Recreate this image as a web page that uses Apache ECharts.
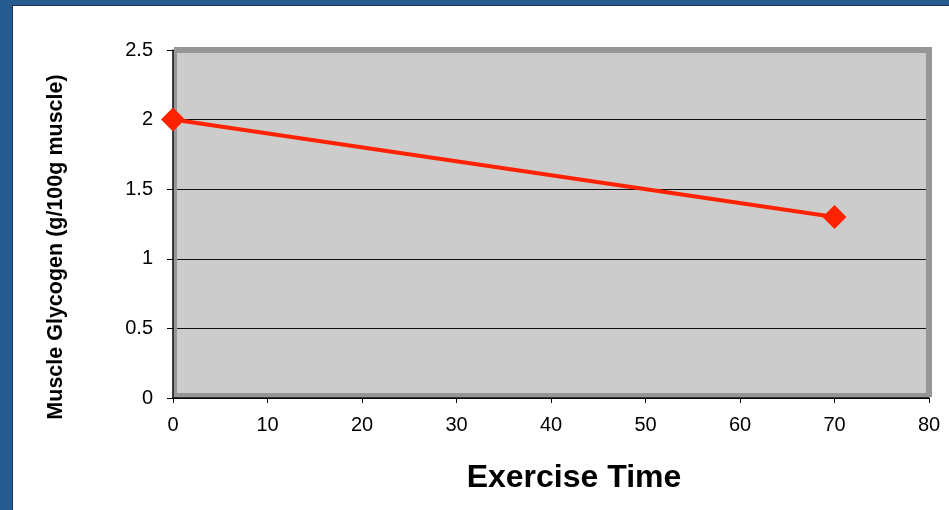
<!DOCTYPE html>
<html>
<head>
<meta charset="utf-8">
<script src="https://cdn.jsdelivr.net/npm/echarts@6/dist/echarts.min.js"></script>
<style>html,body{margin:0;padding:0;background:#fff;}#chart{width:949px;height:510px;}</style>
</head>
<body>
<div id="chart"></div>
<script>
const xTitle = 'Exercise Time';
const yTitle = 'Muscle Glycogen (g/100g muscle)';
const timeValues = [0, 70];
const glycogenValues = [2, 1.3];

const chart = echarts.init(document.getElementById('chart'));
const font = 'Liberation Sans, Arial, sans-serif';
chart.setOption({
  animation: false,
  backgroundColor: '#ffffff',
  grid: {left: 173, right: 20, top: 50, bottom: 112, show: true, backgroundColor: '#cccccc', borderWidth: 0},
  xAxis: {
    type: 'value', min: 0, max: 80, interval: 10,
    axisLine: {show: true, onZero: false, lineStyle: {color: '#000', width: 1.5}},
    axisTick: {show: true, length: 5, lineStyle: {color: '#000'}},
    axisLabel: {color: '#000', fontSize: 20, fontFamily: font, margin: 17},
    splitLine: {show: false}
  },
  yAxis: {
    type: 'value', min: 0, max: 2.5, interval: 0.5,
    axisLine: {show: true, lineStyle: {color: '#000', width: 1.5}},
    axisTick: {show: true, length: 6, lineStyle: {color: '#000'}},
    axisLabel: {color: '#000', fontSize: 20, fontFamily: font, margin: 20},
    splitLine: {show: true, lineStyle: {color: '#111', width: 1}}
  },
  series: [{
    type: 'line',
    data: timeValues.map((t, i) => [t, glycogenValues[i]]),
    symbol: 'diamond', symbolSize: 24,
    lineStyle: {color: '#ff2200', width: 4},
    itemStyle: {color: '#ff2200'},
    z: 5
  }],
  graphic: [
    {type: 'rect', z: 1, shape: {x: 174, y: 47, width: 758, height: 6}, style: {fill: '#969696'}},
    {type: 'rect', z: 1, shape: {x: 926, y: 47, width: 6, height: 350}, style: {fill: '#969696'}},
    {type: 'rect', z: 1, shape: {x: 174, y: 47, width: 3, height: 350}, style: {fill: '#969696'}},
    {type: 'rect', z: 1, shape: {x: 174, y: 393, width: 752, height: 4}, style: {fill: '#969696'}},
    {type: 'rect', z: 1, shape: {x: 0, y: 0, width: 949, height: 5}, style: {fill: '#265b90'}},
    {type: 'rect', z: 1, shape: {x: 0, y: 5, width: 949, height: 1}, style: {fill: '#1a3550'}},
    {type: 'rect', z: 1, shape: {x: 0, y: 0, width: 12, height: 510}, style: {fill: '#265b90'}},
    {type: 'rect', z: 1, shape: {x: 12, y: 5, width: 1, height: 505}, style: {fill: '#1a3550'}},
    {type: 'text', z: 1, x: 574, y: 478, style: {text: xTitle, font: 'bold 32px ' + font, fill: '#000', textAlign: 'center', textVerticalAlign: 'middle'}},
    {type: 'text', z: 1, x: 56, y: 247, rotation: Math.PI / 2, style: {text: yTitle, font: 'bold 21.5px ' + font, fill: '#000', textAlign: 'center', textVerticalAlign: 'middle'}}
  ]
});
</script>
</body>
</html>
